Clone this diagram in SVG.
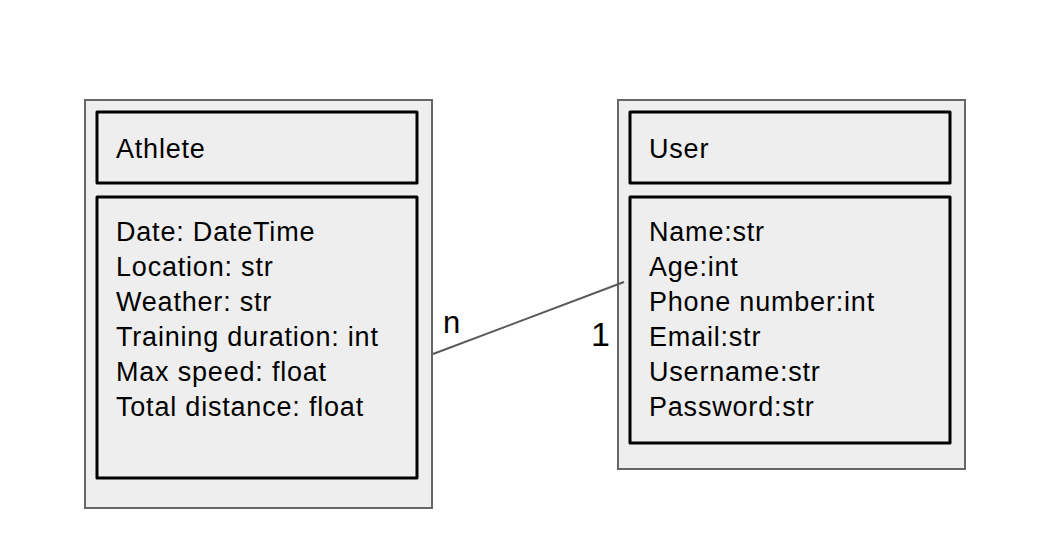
<svg xmlns="http://www.w3.org/2000/svg" width="1040" height="558" viewBox="0 0 1040 558">
<style>
.outer{fill:#eeeeee;stroke:#666666;stroke-width:2}
.inner{fill:#eeeeee;stroke:#000000;stroke-width:3;stroke-linejoin:round}
.t{font-family:"Liberation Sans",Arial,sans-serif;font-size:27px;letter-spacing:0.8px;fill:#000}
.conn{stroke:#595959;stroke-width:2;fill:none}
.lbl{font-family:"Liberation Sans",Arial,sans-serif;fill:#000}
</style>
<rect width="1040" height="558" fill="#ffffff"/>
<g id="athlete">
<rect class="outer" x="85" y="100" width="347" height="408"/>
<rect class="inner" x="97" y="112" width="320" height="71"/>
<text class="t" x="116" y="158">Athlete</text>
<rect class="inner" x="97" y="197" width="320" height="281"/>
<text class="t" x="116" y="241">Date: DateTime</text>
<text class="t" x="116" y="276">Location: str</text>
<text class="t" x="116" y="311">Weather: str</text>
<text class="t" x="116" y="346">Training duration: int</text>
<text class="t" x="116" y="381">Max speed: float</text>
<text class="t" x="116" y="416">Total distance: float</text>
</g>
<g id="user">
<rect class="outer" x="618" y="100" width="347" height="369"/>
<rect class="inner" x="630" y="112" width="320" height="71"/>
<text class="t" x="649" y="158">User</text>
<rect class="inner" x="630" y="197" width="320" height="246"/>
<text class="t" x="649" y="241">Name:str</text>
<text class="t" x="649" y="276">Age:int</text>
<text class="t" x="649" y="311">Phone number:int</text>
<text class="t" x="649" y="346">Email:str</text>
<text class="t" x="649" y="381">Username:str</text>
<text class="t" x="649" y="416">Password:str</text>
</g>
<g id="connectors">
<line class="conn" x1="433" y1="354" x2="624" y2="282"/>
<text class="lbl" x="443" y="333" font-size="31">n</text>
<text class="lbl" x="591" y="346" font-size="34">1</text>
</g>
</svg>
